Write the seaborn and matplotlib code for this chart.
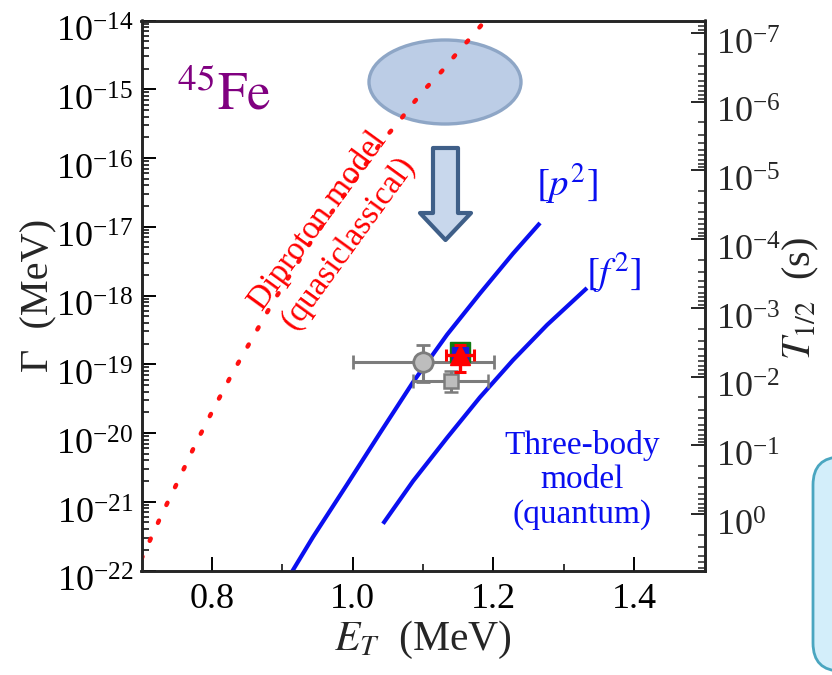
import numpy as np
import pandas as pd
import matplotlib
matplotlib.use("Agg")
import matplotlib.pyplot as plt
import matplotlib.patches as mpatches
import matplotlib.transforms as mtransforms
from matplotlib.ticker import LogLocator, FixedLocator, NullFormatter, FormatStrFormatter
import seaborn as sns

HBAR = 6.582e-22  # MeV s, lifetime conversion T = hbar / Gamma

# Diproton (quasiclassical) decay width: energy (MeV), log10 width (MeV)
diproton_E = [0.700, 0.7064, 0.7291, 0.7533, 0.7774, 0.8030, 0.8300, 0.8584, 0.8868,
              0.945, 1.0061, 1.0246, 1.0430, 1.0643, 1.0814, 1.1041, 1.1268, 1.1482,
              1.1709, 1.185]
diproton_logG = [-21.83, -21.687, -21.178, -20.669, -20.145, -19.636, -19.113, -18.604,
                 -18.095, -17.15, -16.276, -16.0, -15.738, -15.491, -15.258, -14.982,
                 -14.735, -14.473, -14.211, -14.04]

# Three-body model, [p^2] configuration
p2_E = [0.912, 0.9152, 0.9436, 0.9919, 1.0388, 1.0857, 1.1340, 1.1808, 1.2277, 1.2661]
p2_logG = [-22.05, -21.993, -21.513, -20.75, -20.0, -19.26, -18.57, -17.97,
           -17.39, -16.945]

# Three-body model, [f^2] configuration
f2_E = [1.0430, 1.0857, 1.1340, 1.1808, 1.2277, 1.2760, 1.3328]
f2_logG = [-21.32, -20.70, -20.07, -19.48, -18.94, -18.429, -17.891]

# Measured widths
circ_E, circ_dE, circ_G, circ_lo, circ_hi = 1.10, 0.10, 1.08e-19, 5.3e-20, 8.2e-20
sq_E, sq_dE, sq_G, sq_lo, sq_hi = 1.139, 0.053, 5.7e-20, 1.7e-20, 2.4e-20
green_E, green_G = 1.153, 1.51e-19
blue_E, blue_G = 1.153, 1.36e-19
red_E, red_dE, red_G, red_lo, red_hi = 1.153, 0.02, 1.36e-19, 5.9e-20, 5.4e-20

x_ticks = [0.8, 1.0, 1.2, 1.4]
x_minor = [0.9, 1.1, 1.3]

sns.set_style("ticks")
plt.rcParams["font.family"] = ["Liberation Serif", "DejaVu Serif"]
plt.rcParams["mathtext.fontset"] = "stix"
plt.rcParams["axes.unicode_minus"] = True

W, H = 832, 675
fig = plt.figure(figsize=(W / 100, H / 100), dpi=100)
ax = fig.add_axes([141.5 / W, 1 - 570.5 / H, 563.2 / W, 550 / H])
# pixel coordinates with origin at the top-left corner of the figure
PX = mtransforms.Affine2D().scale(1 / W, -1 / H).translate(0, 1) + fig.transFigure

df_dp = pd.DataFrame({"E": diproton_E, "G": 10.0 ** np.array(diproton_logG)})
df_p2 = pd.DataFrame({"E": p2_E, "G": 10.0 ** np.array(p2_logG)})
df_f2 = pd.DataFrame({"E": f2_E, "G": 10.0 ** np.array(f2_logG)})

blue = "#0a0ff0"
sns.lineplot(data=df_dp, x="E", y="G", ax=ax, color="#ff1010", lw=3.2, sort=False,
             estimator=None, zorder=3)
dp_line = ax.lines[-1]
dp_line.set_dashes((0.55, 3.9))
dp_line.set_dash_capstyle("round")
sns.lineplot(data=df_p2, x="E", y="G", ax=ax, color=blue, lw=3.0, sort=False,
             estimator=None, zorder=3)
sns.lineplot(data=df_f2, x="E", y="G", ax=ax, color=blue, lw=3.0, sort=False,
             estimator=None, zorder=3)
for ln in ax.lines[-2:]:
    ln.set_solid_capstyle("butt")
    ln.set_solid_joinstyle("round")

ax.set_yscale("log")
ax.set_xlim(0.7, 1.5)
ax.set_ylim(1e-22, 1e-14)

gray_e = "#7c7c7c"
gray_f = "#bdbdbd"
ax.errorbar([sq_E], [sq_G], xerr=[[sq_dE], [sq_dE]], yerr=[[sq_lo], [sq_hi]],
            fmt="s", ms=10, mfc=gray_f, mec=gray_e, mew=1.8, ecolor=gray_e,
            elinewidth=2.2, capsize=5, capthick=2.2, zorder=4)
ax.errorbar([circ_E], [circ_G], xerr=[[circ_dE], [circ_dE]], yerr=[[circ_lo], [circ_hi]],
            fmt="o", ms=14, mfc=gray_f, mec=gray_e, mew=2.0, ecolor=gray_e,
            elinewidth=2.2, capsize=5, capthick=2.2, zorder=5)
ax.plot([green_E], [green_G], "s", ms=14, color="#107a10", zorder=6)
ax.plot([blue_E], [blue_G], "s", ms=12, color="#1818e0", zorder=6.5)
ax.errorbar([red_E], [red_G], xerr=[[red_dE], [red_dE]], yerr=[[red_lo], [red_hi]],
            fmt="^", ms=14, mfc="#ff0000", mec="#ff0000", ecolor="#ff0000",
            elinewidth=2.4, capsize=4, capthick=2.2, zorder=7)

ax.xaxis.set_major_locator(FixedLocator(x_ticks))
ax.xaxis.set_minor_locator(FixedLocator(x_minor))
ax.xaxis.set_major_formatter(FormatStrFormatter("%.1f"))
ax.yaxis.set_major_locator(LogLocator(base=10, numticks=20))
ax.yaxis.set_minor_locator(LogLocator(base=10, subs=np.arange(2, 10), numticks=100))
ax.yaxis.set_minor_formatter(NullFormatter())
ax.tick_params(which="both", direction="in", top=False, right=False, colors="black",
               labelsize=26)
ax.tick_params(which="major", length=10, width=1.4, pad=9)
ax.tick_params(axis="y", which="major", pad=6)
ax.tick_params(which="minor", length=5, width=1.1)
for s in ax.spines.values():
    s.set_linewidth(1.8)
    s.set_color("black")

ax.set_xlabel(r"$E_T$  (MeV)", fontsize=30)
ax.set_ylabel("Γ  (MeV)", fontsize=29)
ax.xaxis.set_label_coords(0.4998, -0.088)
ax.yaxis.set_label_coords(-0.150, 0.50)

# half-life axis on the right
ax2 = ax.twinx()
ax2.set_yscale("log")
ax2.set_ylim(HBAR / 1e-22, HBAR / 1e-14)
ax2.yaxis.set_major_locator(LogLocator(base=10, numticks=20))
ax2.yaxis.set_minor_locator(LogLocator(base=10, subs=np.arange(2, 10), numticks=100))
ax2.yaxis.set_minor_formatter(NullFormatter())
ax2.tick_params(which="both", direction="in", labelsize=26)
ax2.tick_params(which="major", length=10, width=1.4, pad=8)
ax2.tick_params(which="minor", length=5, width=1.1)
for s in ax2.spines.values():
    s.set_linewidth(1.8)
ax2.set_ylabel(r"$T_{1/2}$  (s)", fontsize=29)
ax2.yaxis.set_label_coords(1.136, 0.495)

# annotations
ax.text(224, 110, r"$^{45}\mathrm{Fe}$", transform=PX, fontsize=38, color="#800080",
        ha="center", va="baseline")
ax.text(333, 232, "Diproton model\n(quasiclassical)", transform=PX, fontsize=24,
        color="#ff0000", rotation=54, rotation_mode="anchor", ha="center",
        va="center", multialignment="center", linespacing=1.3)
ax.text(567, 184, r"$[p^2]$", transform=PX, fontsize=28, color=blue, ha="center",
        va="center")
ax.text(613, 273, r"$[f^2]$", transform=PX, fontsize=28, color=blue, ha="center",
        va="center")
ax.text(582, 480, "Three-body\nmodel\n(quantum)", transform=PX, fontsize=24,
        color=blue, ha="center", va="center", multialignment="center",
        linespacing=1.15)

ell = mpatches.Ellipse((445, 82), 152, 84, transform=PX, facecolor="#bccde6",
                       edgecolor="#8ea6c6", lw=2.4, zorder=2.5, clip_on=False)
ax.add_patch(ell)

arrow_pts = [(433, 148), (458, 148), (458, 213), (471, 213), (445.5, 240),
             (420, 213), (433, 213)]
arr = mpatches.Polygon(arrow_pts, closed=True, transform=PX, facecolor="#c8d7ec",
                       edgecolor="#3f5f88", lw=3.0, joinstyle="round", zorder=2.5,
                       clip_on=False)
ax.add_patch(arr)

box = mpatches.FancyBboxPatch((813, 457), 80, 214, transform=PX,
                              boxstyle="round,pad=0,rounding_size=28",
                              facecolor="#d3eefa", edgecolor="#4aa6c0", lw=2.0,
                              clip_on=False, zorder=1)
fig.patches.append(box)
box.set_figure(fig)

# nudge the logarithmic tick labels down so the mantissa sits near the tick
fig.canvas.draw()
shift = mtransforms.ScaledTranslation(0, -0.09, fig.dpi_scale_trans)
for tk in ax.yaxis.get_major_ticks():
    tk.label1.set_transform(tk.label1.get_transform() + shift)
for tk in ax2.yaxis.get_major_ticks():
    tk.label2.set_transform(tk.label2.get_transform() + shift)

fig.savefig("out.png", dpi=100, facecolor="white")
